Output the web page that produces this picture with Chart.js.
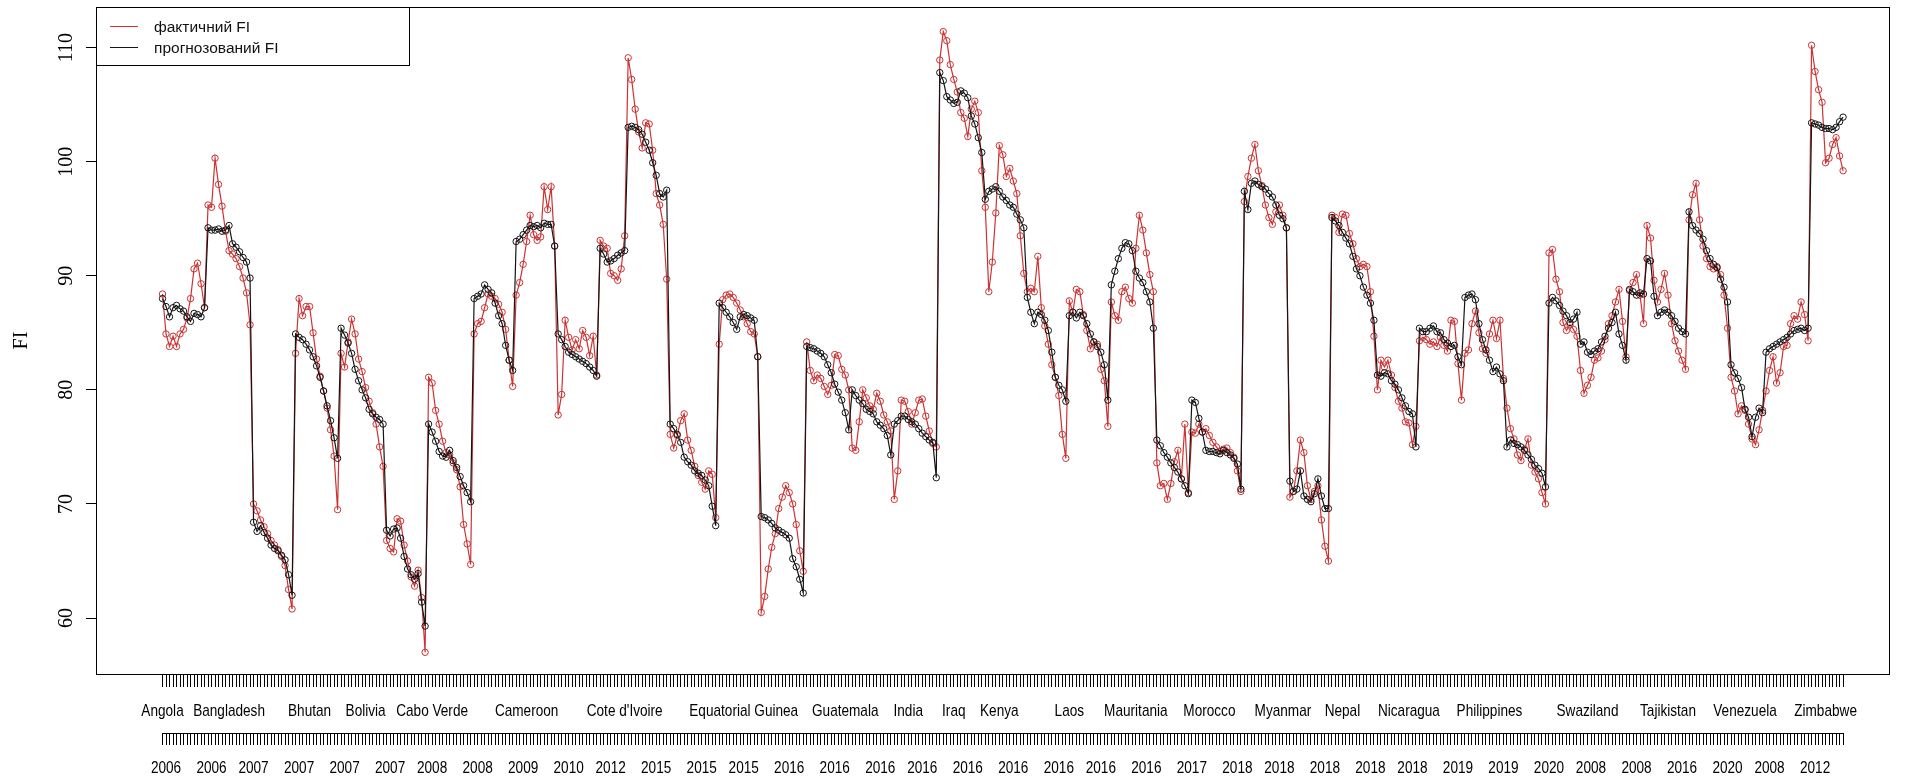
<!DOCTYPE html>
<html>
<head>
<meta charset="utf-8">
<script src="https://cdn.jsdelivr.net/npm/chart.js@4.4.1/dist/chart.umd.min.js"></script>
<style>
  html, body { margin: 0; padding: 0; background: #fff; }
  #wrap { width: 1905px; height: 778px; }
  canvas { display: block; }
</style>
</head>
<body>
<div id="wrap"><canvas id="fiChart" width="1905" height="778"></canvas></div>
<script>
// Observed food index, one value per month, countries one after another
const actualFI = [
  88.4, 84.9, 83.8, 84.7, 83.8, 84.9, 85.3, 86.3, 88.0, 90.6, 91.1, 89.3, 87.2,
  96.2, 96.0, 100.3, 98.0, 96.1, 93.9, 92.2, 91.9, 91.5, 90.8, 89.8, 88.5, 85.7,
  70.0, 69.4, 68.6, 68.0, 67.4, 66.8, 66.4, 66.0, 65.4, 64.6, 62.5, 60.8,
  83.2, 88.0, 86.5, 87.3, 87.3, 85.0, 82.7, 81.2, 79.9, 78.4, 76.5, 74.2, 69.5,
  83.2, 82.0, 84.2, 86.2, 84.9, 82.7, 81.6, 80.2, 79.0, 78.0, 77.0, 75.0, 73.3,
  66.8, 66.1, 65.8, 68.7, 68.5, 66.4, 65.0, 63.6, 62.8, 64.2, 61.8, 57.0,
  81.1, 80.6, 78.2, 77.0, 75.5, 74.5, 74.3, 73.6, 73.0, 71.5, 68.2, 66.5, 64.7,
  84.9, 85.8, 86.0, 87.2, 88.4, 88.2, 88.0, 87.5, 86.8, 85.3, 82.6, 80.3,
  88.3, 89.4, 91.0, 93.0, 95.3, 93.6, 93.1, 93.4, 97.8, 95.8, 97.8, 92.6,
  77.8, 79.6, 86.1, 84.6, 83.5, 84.4, 83.6, 85.2, 84.6, 83.0, 84.7, 81.3,
  93.1, 92.6, 92.4, 90.2, 90.0, 89.6, 90.6, 93.5,
  109.1, 107.2, 104.6, 102.6, 101.2, 103.4, 103.3, 101.0, 97.2, 96.2, 94.5, 89.7,
  76.1, 74.9, 76.0, 77.3, 77.9, 75.6, 74.7, 73.3, 72.5, 71.9, 71.3, 72.9, 72.6, 68.8,
  84.0, 87.9, 88.3, 88.4, 88.1, 87.6, 87.0, 86.4, 85.8, 85.1, 84.9, 82.9,
  60.5, 61.9, 64.3, 66.2, 67.4, 69.6, 70.6, 71.6, 71.0, 70.0, 68.2, 65.9, 64.1,
  84.2, 81.7, 80.8, 81.3, 81.0, 80.3, 79.6, 80.4, 83.1, 83.0, 81.8, 81.3, 80.0,
  74.9, 74.7, 77.2, 80.0, 79.3, 78.6, 78.3, 79.7, 79.0, 77.8, 77.2, 76.4,
  70.4, 72.9, 79.1, 79.0, 78.1, 77.0, 78.0, 79.1, 79.2, 77.7, 76.4, 75.3, 75.0,
  108.9, 111.4, 110.6, 108.5, 107.2, 106.1, 104.3, 103.8, 102.2, 104.6, 105.3, 104.3, 99.2,
  96.0, 88.6, 91.2, 95.5, 101.4, 100.6, 98.7, 99.4, 98.3, 97.2, 93.5, 90.2,
  88.6, 88.9, 88.6, 91.7, 87.2, 85.6, 84.0, 82.2, 81.1, 79.5, 76.1, 74.0,
  87.8, 86.8, 88.8, 88.6, 86.6, 85.2, 83.6, 84.2, 84.0, 81.8, 80.8, 76.8,
  87.7, 86.5, 86.1, 88.6, 89.0, 88.0, 87.6, 92.4, 95.3, 94.0, 92.0, 90.1, 88.6,
  73.6, 71.6, 71.8, 70.4, 71.8, 73.7, 74.7, 72.2, 77.0, 71.0,
  76.3, 76.2, 77.0, 76.3, 76.6, 76.0, 75.4, 75.0, 74.6, 74.8, 74.9, 74.5, 74.1, 72.9, 71.1,
  96.5, 98.7, 100.3, 101.5, 99.2, 97.9, 96.2, 95.1, 94.5, 95.6, 96.2, 95.3, 94.2,
  70.6, 71.1, 72.9, 75.6, 74.5, 71.6, 70.4, 71.1, 71.6, 68.6, 66.3, 65.0,
  95.3, 95.1, 93.8, 95.4, 95.3, 93.7, 92.8, 91.5, 90.8, 91.0, 90.8, 88.6, 84.7,
  80.0, 82.6, 82.0, 82.6, 81.3, 80.2, 79.0, 78.4, 77.2, 77.1, 75.2, 76.8,
  84.3, 84.6, 84.4, 84.0, 84.2, 83.8, 84.6, 83.9, 83.4, 86.1, 86.0, 82.3, 79.1,
  83.2, 83.5, 85.8, 86.9, 85.0, 83.6, 83.2, 84.9, 86.1, 84.5, 86.1, 81.0,
  78.4, 76.6, 75.7, 74.3, 73.8, 74.8, 75.7, 73.4, 72.8, 72.2, 71.0, 70.0,
  92.0, 92.3, 89.7, 88.6, 85.9, 85.2, 85.7, 85.3, 84.7,
  81.7, 79.7, 80.4, 81.1, 82.6, 82.8, 83.4, 84.4, 85.8, 86.5, 87.7, 88.8, 86.0, 82.9,
  88.7, 89.4, 90.1, 88.3, 85.8, 94.4, 93.3, 89.6, 87.7, 88.8, 90.2, 88.3, 85.8, 84.3, 83.4, 82.6, 81.8,
  94.9, 97.1, 98.1, 94.9, 92.6, 91.5, 90.8, 90.6, 90.8, 90.1, 88.3, 85.4,
  81.1, 79.9, 77.9, 78.6, 78.2, 77.0, 75.7, 75.2, 76.5, 78.2,
  79.9, 81.7, 82.9, 80.6, 81.5, 83.8, 83.9, 85.8, 86.5, 86.2, 87.7, 86.6, 84.3,
  110.2, 107.9, 106.3, 105.2, 99.9, 100.3, 101.5, 102.1, 100.5, 99.2
];

// Model forecast for the same months
const forecastFI = [
  88.0, 87.3, 86.4, 87.2, 87.4, 87.1, 86.9, 86.4, 86.0, 86.7, 86.6, 86.4, 87.2,
  94.2, 94.0, 94.0, 94.1, 93.9, 94.0, 94.4, 92.8, 92.5, 92.1, 91.6, 91.2, 89.8,
  68.4, 67.6, 68.1, 67.5, 67.0, 66.4, 66.1, 65.9, 65.5, 65.1, 63.8, 62.0,
  84.9, 84.6, 84.4, 84.0, 83.5, 82.9, 82.1, 81.1, 79.9, 78.6, 77.3, 75.8, 74.0,
  85.4, 84.8, 84.1, 83.2, 81.8, 80.8, 80.0, 79.3, 78.3, 77.9, 77.6, 77.4, 77.0,
  67.7, 67.2, 67.8, 67.9, 67.0, 65.4, 64.3, 63.8, 63.4, 63.9, 61.4, 59.3,
  77.0, 76.3, 75.5, 74.6, 74.2, 74.1, 74.7, 73.8, 73.2, 72.4, 71.6, 71.0, 70.2,
  88.0, 88.2, 88.4, 89.2, 88.8, 88.5, 87.6, 86.5, 85.8, 83.9, 82.6, 81.7,
  93.0, 93.2, 93.6, 94.0, 94.4, 94.3, 94.4, 94.2, 94.6, 94.5, 94.5, 92.6,
  84.9, 84.4, 83.8, 83.3, 83.1, 82.9, 82.7, 82.5, 82.3, 82.0, 81.7, 81.2,
  92.4, 91.9, 91.2, 91.3, 91.5, 91.8, 92.0, 92.2,
  103.0, 103.1, 103.0, 102.8, 102.4, 101.7, 101.0, 99.9, 98.8, 97.2, 96.9, 97.5,
  77.0, 76.6, 76.1, 75.4, 74.1, 73.7, 73.4, 72.9, 72.7, 72.5, 72.1, 71.6, 69.8, 68.1,
  87.6, 87.2, 86.8, 86.4, 85.9, 85.3, 86.4, 86.6, 86.5, 86.3, 86.1, 82.9,
  68.9, 68.8, 68.6, 68.3, 67.9, 67.7, 67.5, 67.3, 67.0, 65.2, 64.5, 63.4, 62.2,
  83.8, 83.7, 83.6, 83.4, 83.2, 82.9, 82.2, 81.5, 80.5, 79.8, 79.1, 78.0, 76.5,
  80.0, 79.5, 79.1, 78.8, 78.3, 78.1, 77.9, 77.2, 76.9, 76.6, 76.0, 74.3,
  77.0, 77.3, 77.7, 77.7, 77.4, 77.2, 77.0, 76.6, 76.2, 75.9, 75.6, 75.4, 72.3,
  107.8, 107.1, 105.7, 105.4, 105.1, 105.2, 106.2, 106.0, 105.6, 104.0, 103.3, 102.1, 100.8,
  96.7, 97.4, 97.6, 97.8, 97.4, 96.9, 96.6, 96.2, 96.0, 95.4, 94.9, 94.2,
  88.1, 86.8, 85.8, 86.8, 86.6, 86.1, 85.2, 83.3, 81.1, 80.4, 80.0, 79.0,
  86.5, 86.8, 86.3, 86.8, 86.5, 85.8, 84.9, 84.2, 83.8, 83.3, 82.2, 79.1,
  89.2, 90.4, 91.5, 92.4, 92.9, 92.8, 92.2, 90.4, 89.8, 89.4, 88.6, 87.7, 85.4,
  75.6, 75.1, 74.5, 74.1, 73.6, 73.2, 72.8, 72.2, 71.6, 70.9,
  79.1, 78.9, 77.5, 76.3, 74.7, 74.6, 74.6, 74.5, 74.4, 74.7, 74.5, 74.3, 74.0, 73.5, 71.3,
  97.4, 95.8, 98.1, 98.3, 98.0, 97.8, 97.6, 97.2, 96.9, 96.2, 95.3, 95.0, 94.2,
  72.0, 71.1, 71.3, 72.9, 70.7, 70.4, 70.2, 70.9, 72.2, 70.7, 69.6, 69.6,
  95.1, 94.8, 94.4, 93.8, 93.3, 92.8, 91.7, 90.6, 90.0, 89.0, 88.3, 87.6, 86.1,
  81.3, 81.2, 81.5, 81.4, 80.8, 80.5, 80.0, 79.3, 78.6, 78.1, 77.9, 75.0,
  85.4, 85.1, 85.1, 85.4, 85.6, 85.1, 85.0, 84.4, 84.1, 83.8, 83.9, 82.9, 82.2,
  88.1, 88.3, 88.4, 87.9, 85.8, 84.4, 83.5, 82.6, 81.6, 82.0, 81.4, 80.8,
  75.0, 75.6, 75.3, 75.2, 75.0, 74.7, 74.3, 73.9, 73.4, 73.1, 72.7, 71.5,
  87.6, 88.1, 87.8, 87.4, 86.9, 86.5, 85.9, 86.2, 86.8,
  84.0, 84.2, 83.3, 83.1, 83.4, 83.6, 84.2, 84.7, 85.4, 85.9, 86.8, 84.9, 83.9, 82.6,
  88.8, 88.6, 88.3, 88.5, 88.4, 91.5, 91.3, 88.2, 86.5, 86.8, 87.0, 86.8, 86.5, 86.0, 85.4, 85.1, 84.9,
  95.6, 94.4, 94.0, 93.7, 93.2, 92.2, 91.5, 91.0, 90.7, 89.7, 89.0, 87.7,
  82.2, 81.5, 81.0, 80.2, 78.3, 77.6, 75.9, 77.6, 78.4, 78.0,
  83.3, 83.6, 83.8, 84.0, 84.2, 84.4, 84.6, 84.9, 85.2, 85.3, 85.4, 85.2, 85.4,
  103.4, 103.3, 103.2, 103.0, 102.9, 102.9, 102.8, 103.0, 103.5, 103.9
];

// Country names printed under the first tick row: [observation index, name]
const countryTicks = [
  [0, 'Angola'], [19, 'Bangladesh'], [42, 'Bhutan'], [58, 'Bolivia'], [77, 'Cabo Verde'],
  [104, 'Cameroon'], [132, "Cote d'Ivoire"], [166, 'Equatorial Guinea'], [195, 'Guatemala'],
  [213, 'India'], [226, 'Iraq'], [239, 'Kenya'], [259, 'Laos'], [278, 'Mauritania'],
  [299, 'Morocco'], [320, 'Myanmar'], [337, 'Nepal'], [356, 'Nicaragua'], [379, 'Philippines'],
  [407, 'Swaziland'], [430, 'Tajikistan'], [452, 'Venezuela'], [475, 'Zimbabwe']
];

// Years printed under the second tick row: [observation index, year]
const yearTicks = [
  [1, '2006'], [14, '2006'], [26, '2007'], [39, '2007'], [52, '2007'], [65, '2007'],
  [77, '2008'], [90, '2008'], [103, '2009'], [116, '2010'], [128, '2012'], [141, '2015'],
  [154, '2015'], [166, '2015'], [179, '2016'], [192, '2016'], [205, '2016'], [217, '2016'],
  [230, '2016'], [243, '2016'], [256, '2016'], [268, '2016'], [281, '2016'], [294, '2017'],
  [307, '2018'], [319, '2018'], [332, '2018'], [345, '2018'], [357, '2018'], [370, '2019'],
  [383, '2019'], [396, '2020'], [408, '2008'], [421, '2008'], [434, '2016'], [447, '2020'],
  [459, '2008'], [472, '2012']
];

const yTickValues = [60, 70, 80, 90, 100, 110];

const RED = '#cd3232';
const BLACK = '#141414';
const N = actualFI.length;
const obsIndex = actualFI.map((_, i) => i);

// narrow sans labels (Arial Narrow look) drawn under a tick row
function drawNarrowLabels(ctx, scale, pairs, yCenter) {
  ctx.save();
  ctx.fillStyle = '#000';
  ctx.font = '17px "Liberation Sans", Arial, sans-serif';
  ctx.textAlign = 'center';
  ctx.textBaseline = 'middle';
  pairs.forEach(([i, txt]) => {
    ctx.save();
    ctx.translate(scale.getPixelForValue(i), yCenter);
    ctx.scale(0.8, 1);
    ctx.fillText(txt, 0, 0);
    ctx.restore();
  });
  ctx.restore();
}

// Plot frame, axis texts, second axis line and the legend box
const framePlugin = {
  id: 'framePlugin',
  afterDraw(chart) {
    const { ctx, chartArea: a, scales } = chart;
    ctx.save();
    ctx.strokeStyle = '#000';
    ctx.lineWidth = 1;
    ctx.strokeRect(Math.round(a.left) + 0.5, Math.round(a.top) + 0.5,
                   Math.round(a.right - a.left) - 1, Math.round(a.bottom - a.top));

    const x2 = scales.x2;
    const yLine = Math.round(x2.top) + 0.5;
    ctx.beginPath();
    ctx.moveTo(x2.getPixelForValue(0), yLine);
    ctx.lineTo(x2.getPixelForValue(N - 1), yLine);
    ctx.stroke();

    drawNarrowLabels(ctx, scales.x, countryTicks, 711);
    drawNarrowLabels(ctx, x2, yearTicks, 768);

    const ys = scales.y;
    ctx.fillStyle = '#000';
    ctx.font = '20px "Liberation Serif", "DejaVu Serif", serif';
    ctx.textAlign = 'center';
    ctx.textBaseline = 'middle';
    yTickValues.forEach(v => {
      ctx.save();
      ctx.translate(67, ys.getPixelForValue(v));
      ctx.rotate(-Math.PI / 2);
      ctx.fillText(String(v), 0, 0);
      ctx.restore();
    });
    ctx.save();
    ctx.translate(22, (a.top + a.bottom) / 2);
    ctx.rotate(-Math.PI / 2);
    ctx.fillText('FI', 0, 0);
    ctx.restore();

    // legend
    const lx = Math.round(a.left) + 0.5, ly = Math.round(a.top) + 0.5;
    ctx.fillStyle = '#fff';
    ctx.fillRect(lx, ly, 313, 58);
    ctx.strokeStyle = '#000';
    ctx.strokeRect(lx, ly, 313, 58);
    const items = [[RED, 'фактичний FI', 26.5], [BLACK, 'прогнозований FI', 47.5]];
    ctx.font = '15.5px "Liberation Sans", Arial, sans-serif';
    ctx.textAlign = 'left';
    items.forEach(([col, txt, yy]) => {
      ctx.strokeStyle = col;
      ctx.beginPath();
      ctx.moveTo(110, yy);
      ctx.lineTo(138, yy);
      ctx.stroke();
      ctx.fillStyle = '#111';
      ctx.fillText(txt, 154, yy + 1.5);
    });
    ctx.restore();
  }
};

const X_MIN = -19.0, X_MAX = 493.4;
const tickGrid = { drawOnChartArea: false, drawTicks: true, tickLength: 12, color: '#000', lineWidth: 1 };

new Chart(document.getElementById('fiChart'), {
  type: 'line',
  data: {
    datasets: [
      {
        label: 'прогнозований FI',
        data: forecastFI.map((v, i) => ({ x: i, y: v })),
        borderColor: BLACK, borderWidth: 1.2,
        pointRadius: 3.2, pointBorderWidth: 1, pointBorderColor: BLACK,
        pointBackgroundColor: 'rgba(0,0,0,0)', tension: 0
      },
      {
        label: 'фактичний FI',
        data: actualFI.map((v, i) => ({ x: i, y: v })),
        borderColor: RED, borderWidth: 1.2,
        pointRadius: 3.2, pointBorderWidth: 1, pointBorderColor: RED,
        pointBackgroundColor: 'rgba(0,0,0,0)', tension: 0
      }
    ]
  },
  options: {
    responsive: false,
    animation: false,
    layout: { padding: { left: 0, right: 15, top: 7, bottom: 0 } },
    plugins: { legend: { display: false }, tooltip: { enabled: false } },
    scales: {
      x: {
        type: 'linear', position: 'bottom', min: X_MIN, max: X_MAX,
        afterBuildTicks: s => { s.ticks = obsIndex.map(v => ({ value: v })); },
        afterFit: s => { s.height = 59; },
        grid: { ...tickGrid, tickLength: 13 },
        border: { display: false },
        ticks: { autoSkip: false, minRotation: 0, maxRotation: 0, callback: () => '' }
      },
      x2: {
        type: 'linear', position: 'bottom', min: X_MIN, max: X_MAX,
        afterBuildTicks: s => { s.ticks = obsIndex.map(v => ({ value: v })); },
        afterFit: s => { s.height = 45; },
        grid: tickGrid,
        border: { display: false },
        ticks: { autoSkip: false, minRotation: 0, maxRotation: 0, callback: () => '' }
      },
      y: {
        type: 'linear', position: 'left', min: 55.1, max: 113.55,
        afterBuildTicks: s => { s.ticks = yTickValues.map(v => ({ value: v })); },
        afterFit: s => { s.width = 96; },
        grid: { drawOnChartArea: false, drawTicks: true, tickLength: 10, color: '#000', lineWidth: 1 },
        border: { display: false },
        ticks: { display: false }
      }
    }
  },
  plugins: [framePlugin]
});
</script>
</body>
</html>
